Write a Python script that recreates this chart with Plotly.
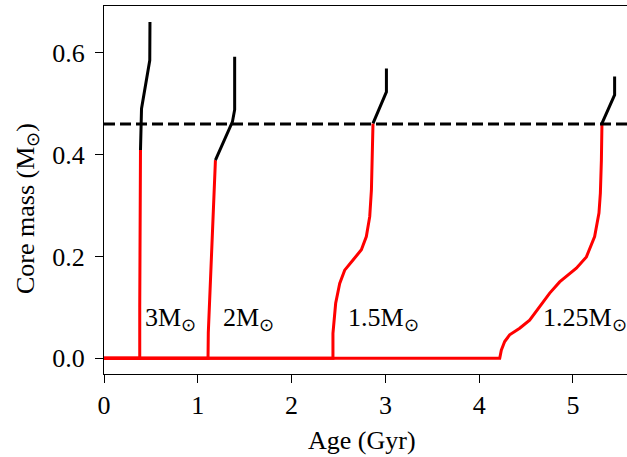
import plotly.graph_objects as go

# ---- data ----
m300_red_age = [0.0, 0.381, 0.381, 0.383, 0.386, 0.389]
m300_red_core = [0.0, 0.0, 0.10, 0.25, 0.35, 0.409]
m300_blk_age = [0.389, 0.392, 0.400, 0.488, 0.490]
m300_blk_core = [0.409, 0.460, 0.490, 0.585, 0.660]

m200_red_age = [0.0, 1.109, 1.112, 1.127, 1.145, 1.166, 1.188]
m200_red_core = [0.0, 0.0, 0.050, 0.114, 0.212, 0.311, 0.389]
m200_blk_age = [1.188, 1.369, 1.393, 1.393]
m200_blk_core = [0.389, 0.464, 0.488, 0.592]

m150_red_age = [0.0, 2.441, 2.441, 2.470, 2.513, 2.566, 2.655, 2.744, 2.797,
                2.833, 2.851, 2.861, 2.868]
m150_red_core = [0.0, 0.0, 0.049, 0.108, 0.147, 0.173, 0.193, 0.213, 0.239,
                 0.278, 0.330, 0.409, 0.461]
m150_blk_age = [2.868, 2.993, 3.011, 3.011]
m150_blk_core = [0.461, 0.513, 0.523, 0.569]

m125_red_age = [0.0, 4.219, 4.236, 4.272, 4.325, 4.432, 4.538, 4.645, 4.752,
                4.858, 5.036, 5.143, 5.231, 5.277, 5.292, 5.303, 5.309]
m125_red_core = [0.0, 0.0, 0.016, 0.033, 0.046, 0.059, 0.075, 0.101, 0.128,
                 0.150, 0.177, 0.199, 0.239, 0.285, 0.324, 0.389, 0.461]
m125_blk_age = [5.309, 5.426, 5.444, 5.444]
m125_blk_core = [0.461, 0.507, 0.517, 0.553]

threshold_core = 0.46

labels = ["3M<sub>⊙</sub>", "2M<sub>⊙</sub>", "1.5M<sub>⊙</sub>", "1.25M<sub>⊙</sub>"]
label_age = [0.414, 1.252, 2.577, 4.66]
label_core = [0.077, 0.077, 0.077, 0.077]

x_ticks = [0, 1, 2, 3, 4, 5]
y_ticks = [0.0, 0.2, 0.4, 0.6]
y_ticktext = ["0.0", "0.2", "0.4", "0.6"]

FONT = "Liberation Serif"
FS = 26

fig = go.Figure()

reds = [(m300_red_age, m300_red_core), (m200_red_age, m200_red_core),
        (m150_red_age, m150_red_core), (m125_red_age, m125_red_core)]
blacks = [(m300_blk_age, m300_blk_core), (m200_blk_age, m200_blk_core),
          (m150_blk_age, m150_blk_core), (m125_blk_age, m125_blk_core)]

for xs, ys in reds:
    fig.add_trace(go.Scatter(x=xs, y=ys, mode="lines",
                             line=dict(color="#ff0000", width=3),
                             showlegend=False, hoverinfo="skip"))
for xs, ys in blacks:
    fig.add_trace(go.Scatter(x=xs, y=ys, mode="lines",
                             line=dict(color="black", width=3),
                             showlegend=False, hoverinfo="skip"))

fig.add_trace(go.Scatter(x=[0, 5.6], y=[threshold_core, threshold_core], mode="lines",
                         line=dict(color="black", width=3, dash="11px,5px"),
                         showlegend=False, hoverinfo="skip"))

for t, xa, ya in zip(labels, label_age, label_core):
    fig.add_annotation(x=xa, y=ya, text=t, showarrow=False, xanchor="left",
                       yanchor="middle", font=dict(family=FONT, size=FS, color="black"))

# plot area spans x 104..627, y 6..374 (pixels)
fig.add_annotation(xref="paper", yref="paper", x=(362 - 104) / 523, y=(374 - 440) / 368,
                   text="Age (Gyr)", showarrow=False, xanchor="center", yanchor="middle",
                   font=dict(family=FONT, size=FS, color="black"))
fig.add_annotation(xref="paper", yref="paper", x=(27 - 104) / 523, y=(374 - 209) / 368,
                   text="Core mass (M<sub>⊙</sub>)", showarrow=False, textangle=-90,
                   xanchor="center", yanchor="middle",
                   font=dict(family=FONT, size=FS, color="black"))

fig.update_layout(
    width=627, height=457,
    margin=dict(l=104, r=0, t=6, b=83, autoexpand=False),
    paper_bgcolor="white", plot_bgcolor="white",
    font=dict(family=FONT, size=FS, color="black"),
    xaxis=dict(range=[0, 5.576], tickvals=x_ticks, ticks="outside", ticklen=8,
               tickwidth=1.3, tickcolor="black", showline=True, linecolor="black",
               linewidth=1.3, mirror=True, showgrid=False, zeroline=False,
               tickfont=dict(family=FONT, size=FS)),
    yaxis=dict(range=[-0.0308, 0.6915], tickvals=y_ticks, ticktext=y_ticktext,
               ticks="outside", ticklen=8, tickwidth=1.3, tickcolor="black",
               showline=True, linecolor="black", linewidth=1.3, mirror=False,
               showgrid=False, zeroline=False, ticklabelstandoff=5,
               tickfont=dict(family=FONT, size=FS)),
)

fig.write_html("out.html", config={"displayModeBar": False},
               post_script="document.body.style.margin='0';document.body.style.overflow='hidden';")
